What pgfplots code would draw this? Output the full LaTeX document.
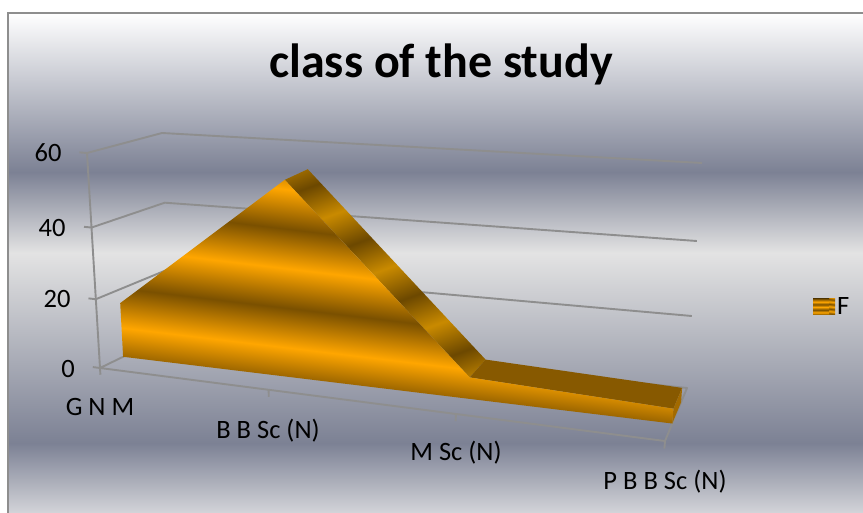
\documentclass[border=0pt]{standalone}
\usepackage{pgfplots}
\pgfplotsset{compat=1.18}
\usepackage{fontspec}
\setmainfont{Carlito}
\definecolor{gd}{HTML}{FFA600}
\definecolor{dk}{HTML}{7A5000}
\definecolor{gd2}{HTML}{C98A00}
\definecolor{dk2}{HTML}{6C4800}
\definecolor{hi}{HTML}{E3E3E3}
\definecolor{lo}{HTML}{7C8194}
\definecolor{bt}{HTML}{D3D4D9}
\definecolor{gridc}{HTML}{8E8E8E}
\pgfdeclareverticalshading{bgbands}{100bp}{color(0bp)=(bt); color(25bp)=(bt); color(32bp)=(lo); color(51bp)=(hi); color(59.1bp)=(lo); color(75bp)=(white); color(100bp)=(white)}
\pgfdeclareverticalshading{frontbands}{100bp}{color(0bp)=(gd); color(3.9bp)=(dk); color(11bp)=(gd); color(18.1bp)=(dk); color(25.2bp)=(gd); color(32.3bp)=(dk); color(39.4bp)=(gd); color(46.5bp)=(dk); color(53.6bp)=(gd); color(60.7bp)=(dk); color(67.8bp)=(gd); color(74.9bp)=(dk); color(82bp)=(gd); color(89bp)=(dk); color(100bp)=(gd)}
\pgfdeclareverticalshading{slopebands}{100bp}{color(0bp)=(gd2); color(17.4bp)=(gd2); color(25.7bp)=(dk2); color(34.1bp)=(gd2); color(42.5bp)=(dk2); color(51bp)=(gd2); color(59.3bp)=(dk2); color(67.8bp)=(gd2); color(76bp)=(dk2); color(84.6bp)=(gd2); color(100bp)=(gd2)}
\pgfdeclareverticalshading{legbands}{100bp}{color(0bp)=(dk); color(25bp)=(dk); color(33bp)=(gd); color(41bp)=(dk); color(50bp)=(gd); color(58bp)=(dk); color(66bp)=(gd); color(75bp)=(dk); color(100bp)=(dk)}
% data in chart terms: c = category number, d = depth 0..1, v = value 0..60
\pgfplotsset{
  /pgfplots/table/proj/.style={x expr={px(U(\thisrow{c}),\thisrow{d},W(\thisrow{v}))},y expr={py(U(\thisrow{c}),\thisrow{d},W(\thisrow{v}))},row sep=\\},
  gl/.style={draw=gridc,line width=1.9bp,forget plot,line join=round}
}
\tikzset{lab/.style={font=\fontsize{26.5bp}{31bp}\selectfont,text=black,inner sep=0pt}}
\begin{document}
\begin{tikzpicture}[declare function={
  U(\pc)=0.851*\pc/(0.851*\pc+3-\pc);
  W(\pv)=\pv/60-0.06*(\pv/60)*(1-\pv/60);
  px(\pu,\pd,\pw)=(1-\pw)*((1-\pd)*(100+565*\pu)+\pd*(170+517*\pu))+\pw*((1-\pd)*(87+598*\pu)+\pd*(162+540*\pu));
  py(\pu,\pd,\pw)=(1-\pw)*((1-\pd)*(368+73*\pu)+\pd*(334+54*\pu))+\pw*((1-\pd)*(153+47*\pu)+\pd*(133+30*\pu));
}]
\useasboundingbox (0,0) rectangle (863bp,513bp);
\begin{axis}[
  at={(0,0)},anchor=south west,
  scale only axis,width=863bp,height=513bp,
  xmin=0,xmax=863,ymin=0,ymax=513,y dir=reverse,
  hide axis,no markers,
  legend style={at={(0.942,0.4016)},anchor=west,draw=none,fill=none,inner sep=0pt,
    font=\fontsize{26.5bp}{31bp}\selectfont},
  legend image code/.code={\path (0bp,-8bp) rectangle (22bp,8bp);\path[shading=legbands,shading angle=0] (0bp,-8bp) rectangle (16bp,8bp);},
]
% background
\addplot[draw=none,shading=bgbands,forget plot] coordinates {(8,13)(863,13)(863,513)(8,513)} -- cycle;
\addplot[draw=gridc,line width=1.5bp,forget plot] coordinates {(8,513)(8,13)(863,13)};
% walls and floor
\addplot[gl] table[proj] {c d v\\ -0.045 0 60\\ 0 0 60\\ 0 1 60\\ 3 1 60\\};
\addplot[gl] table[proj] {c d v\\ -0.045 0 40\\ 0 0 40\\ 0 1 40\\ 3 1 40\\};
\addplot[gl] table[proj] {c d v\\ -0.045 0 20\\ 0 0 20\\ 0 1 20\\ 3 1 20\\};
\addplot[gl] table[proj] {c d v\\ -0.045 0 0\\ 0 0 0\\ 0 1 0\\ 3 1 0\\ 3 0 0\\ 0 0 0\\};
\addplot[gl] table[proj] {c d v\\ 0 0 0\\ 0 0 60\\};
\addplot[gl] table[proj] {c d v\\ 0 0 -2\\ 0 0 0\\};
\addplot[gl] table[proj] {c d v\\ 1 0 -2\\ 1 0 0\\};
\addplot[gl] table[proj] {c d v\\ 2 0 -2\\ 2 0 0\\};
\addplot[gl] table[proj] {c d v\\ 3 0 -2\\ 3 0 0\\};
% area body: top of the falling slope, flat top, end cap
\addplot[draw=none,forget plot,shading=slopebands,shading angle=20.3] table[proj] {c d v\\ 1 0.33 54.5\\ 1 0.73 54.5\\ 2 0.73 6\\ 2 0.33 6\\} -- cycle;
\addplot[draw=none,forget plot,fill=dk!90!gd] table[proj] {c d v\\ 2 0.33 6\\ 2 0.73 6\\ 3 0.73 4\\ 3 0.33 4\\} -- cycle;
\addplot[draw=none,forget plot,fill=dk!70!gd] table[proj] {c d v\\ 3 0.33 4\\ 3 0.73 4\\ 3 0.73 0\\ 3 0.33 0\\} -- cycle;
% front face
\addplot[draw=none,shading=frontbands,shading angle=-6.84] table[proj] {c d v\\ 0 0.33 0\\ 0 0.33 16\\ 1 0.33 54.5\\ 2 0.33 6\\ 3 0.33 4\\ 3 0.33 0\\ 2 0.33 0\\ 1 0.33 0\\} -- cycle;
\addlegendentry{F}
% text
\node[font=\fontsize{48bp}{56bp}\selectfont\bfseries,inner sep=0pt] at (axis cs:441,64.5) {class of the study};
\node[lab] at (axis cs:48,153) {60};
\node[lab] at (axis cs:52,228) {40};
\node[lab] at (axis cs:57,299) {20};
\node[lab] at (axis cs:68,369) {0};
\node[lab] at (axis cs:100,407) {G N M};
\node[lab] at (axis cs:268,431) {B B Sc (N)};
\node[lab] at (axis cs:456,453) {M Sc (N)};
\node[lab] at (axis cs:665,482) {P B B Sc (N)};
\end{axis}
\end{tikzpicture}
\end{document}
